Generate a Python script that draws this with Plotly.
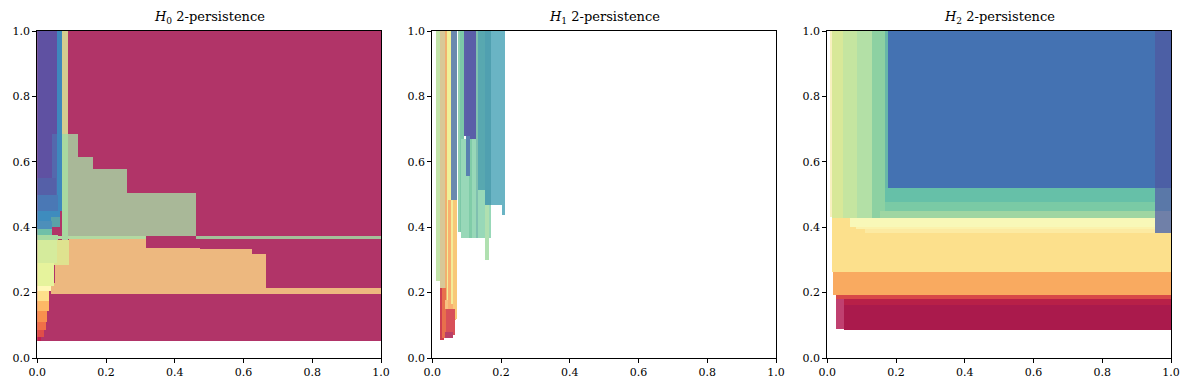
import plotly.graph_objects as go

# ---------------- data: rectangles (x0, x1, y0, y1) and colours ----------------
# Panel H0
h0_x0 = [0.000, 0.091, 0.118, 0.164, 0.261, 0.464, 0.040, 0.092, 0.318, 0.474, 0.625, 0.665, 0.051, 0.042,
         0.050, 0.072, 0.072, 0.057, 0.000, 0.045, 0.000, 0.000, 0.000, 0.040, 0.000, 0.000, 0.000,
         0.000, 0.000, 0.000, 0.000, 0.000, 0.000, 0.000, 0.000, 0.000]
h0_x1 = [1.000, 0.118, 0.164, 0.261, 0.464, 1.000, 0.318, 0.318, 0.474, 0.625, 0.665, 1.000, 0.092, 0.051,
         0.092, 0.091, 0.091, 0.072, 0.057, 0.057, 0.055, 0.062, 0.066, 0.066, 0.060, 0.045, 0.058,
         0.050, 0.040, 0.036, 0.034, 0.030, 0.026, 0.020, 0.012, 0.045]
h0_y0 = [0.052, 0.372, 0.372, 0.372, 0.372, 0.363, 0.363, 0.196, 0.196, 0.196, 0.196, 0.196, 0.196, 0.196,
         0.285, 0.684, 0.362, 0.450, 0.550, 0.500, 0.500, 0.450, 0.400, 0.400, 0.362, 0.376, 0.290,
         0.220, 0.205, 0.175, 0.145, 0.110, 0.085, 0.065, 0.052, 0.395]
h0_y1 = [1.000, 0.684, 0.614, 0.577, 0.504, 0.372, 0.374, 0.365, 0.335, 0.332, 0.318, 0.214, 0.285, 0.228,
         0.362, 1.000, 0.684, 1.000, 1.000, 0.684, 0.550, 0.500, 0.450, 0.432, 0.376, 0.400, 0.362,
         0.290, 0.220, 0.205, 0.175, 0.145, 0.110, 0.085, 0.065, 0.420]
h0_col = ["#B13468", "#A9B898", "#A9B898", "#A9B898", "#A9B898", "#A4C09A", "#B3D9A1", "#EDB87F", "#EDB87F",
          "#EDB87F", "#EDB87F", "#EDB87F", "#EDB87F", "#EDB87F",
          "#DFE28F", "#D4CC90", "#A8D8A0", "#3E88BD", "#5F51A2", "#5468AD", "#5560A8", "#4A78B5", "#3E8CBE",
          "#5AA2A8", "#A8DAA0", "#70C0A8", "#D5EB9C",
          "#E6F39C", "#FFF8B8", "#FEE08B", "#FDB866", "#F8904E", "#F07048", "#E04E48", "#C02050", "#4D8FBA"]

# Panel H1
h1_x0 = [0.011, 0.022, 0.037, 0.043, 0.054, 0.077, 0.082, 0.083, 0.108, 0.153, 0.092, 0.100, 0.098, 0.127,
         0.133, 0.154, 0.173, 0.205, 0.046, 0.060, 0.022, 0.028, 0.040, 0.039, 0.054, 0.037]
h1_x1 = [0.022, 0.037, 0.043, 0.054, 0.074, 0.082, 0.093, 0.173, 0.115, 0.165, 0.113, 0.127, 0.112, 0.133,
         0.154, 0.173, 0.211, 0.211, 0.071, 0.074, 0.036, 0.040, 0.066, 0.061, 0.060, 0.046]
h1_y0 = [0.234, 0.213, 0.176, 0.166, 0.482, 0.385, 0.385, 0.367, 0.367, 0.299, 0.678, 0.670, 0.557, 0.367,
         0.513, 0.467, 0.467, 0.436, 0.115, 0.118, 0.054, 0.062, 0.070, 0.062, 0.166, 0.150]
h1_y1 = [1.000, 1.000, 1.000, 1.000, 1.000, 1.000, 1.000, 0.670, 0.670, 0.467, 1.000, 1.000, 0.678, 1.000,
         1.000, 1.000, 1.000, 0.467, 0.482, 0.482, 0.213, 0.213, 0.150, 0.080, 0.482, 0.176]
h1_col = ["#C3E4A9", "#D8C898", "#F0B070", "#F0F098", "#6A88AE", "#90D0B0", "#7CC8A8", "#98D8B8", "#80CCA8",
          "#B0E0B0", "#5C60A8", "#5A5EA8", "#5880B0", "#80C0B0",
          "#58A8B0", "#50A0B0", "#6AB4C4", "#6AB4C4", "#F8B070", "#F8C878", "#D04050", "#E8704C", "#D85058",
          "#B84068", "#F4EC98", "#F8C080"]

# Panel H2
h2_x0 = [0.014, 0.016, 0.027, 0.049, 0.049, 0.027, 0.066, 0.084, 0.112, 0.010, 0.014, 0.046, 0.086, 0.130,
         0.155, 0.169, 0.169, 0.169, 0.177, 0.953, 0.953, 0.953]
h2_x1 = [1.000, 1.000, 1.000, 1.000, 1.000, 0.049, 0.953, 0.953, 0.953, 0.014, 0.046, 0.086, 0.130, 0.169,
         0.953, 0.953, 0.953, 0.177, 0.953, 1.000, 1.000, 1.000]
h2_y0 = [0.264, 0.193, 0.180, 0.161, 0.087, 0.090, 0.402, 0.395, 0.382, 0.430, 0.427, 0.427, 0.427, 0.427,
         0.427, 0.450, 0.476, 0.519, 0.519, 0.382, 0.450, 0.519]
h2_y1 = [0.427, 0.264, 0.194, 0.180, 0.161, 0.180, 0.427, 0.402, 0.395, 1.000, 1.000, 1.000, 1.000, 1.000,
         0.450, 0.476, 0.519, 1.000, 1.000, 0.450, 0.519, 1.000]
h2_col = ["#FCE08C", "#F9AA60", "#D84848", "#B82048", "#AA1A4C", "#C04070", "#F8F8B8", "#FBF2AC", "#FCEAA2",
          "#F8F0C0", "#D8E898", "#C5E5A0", "#B3E0A6", "#8DD1A2",
          "#9FD6A2", "#7ACAA5", "#66C0A8", "#68B8A8", "#4472B2", "#7080A8", "#5A78A8", "#4C5FA5"]

titles = ["<i>H</i><sub>0</sub> 2-persistence", "<i>H</i><sub>1</sub> 2-persistence", "<i>H</i><sub>2</sub> 2-persistence"]
tick_vals = [0.0, 0.2, 0.4, 0.6, 0.8, 1.0]
tick_text = ["0.0", "0.2", "0.4", "0.6", "0.8", "1.0"]

panels = [(h0_x0, h0_x1, h0_y0, h0_y1, h0_col),
          (h1_x0, h1_x1, h1_y0, h1_y1, h1_col),
          (h2_x0, h2_x1, h2_y0, h2_y1, h2_col)]

# ---------------- figure ----------------
# the page body has an 8px default margin, so the figure is sized to fit inside the window
W, H = 1174, 374
ml, mr, mt, mb = 29, 11, 23, 24
pw = W - ml - mr
starts = [0.3, 395.3, 790.3]
width_px = 343.7
domains = [[s / pw, min((s + width_px) / pw, 1.0)] for s in starts]

fig = go.Figure()
font_family = "DejaVu Serif"

for i, (x0, x1, y0, y1, col) in enumerate(panels):
    sfx = "" if i == 0 else str(i + 1)
    fig.add_trace(go.Bar(
        x=[(a + b) / 2 for a, b in zip(x0, x1)],
        width=[b - a for a, b in zip(x0, x1)],
        base=y0,
        y=[b - a for a, b in zip(y0, y1)],
        marker=dict(color=col, line=dict(width=0)),
        xaxis="x" + sfx, yaxis="y" + sfx,
        showlegend=False, hoverinfo="skip",
    ))
    axis_common = dict(range=[0, 1], showgrid=False, zeroline=False, showline=True, linecolor="black",
                       linewidth=1, mirror=True, ticks="outside", ticklen=4, tickwidth=1, tickcolor="black",
                       tickvals=tick_vals, ticktext=tick_text, automargin=False,
                       tickfont=dict(family=font_family, size=11, color="black"), fixedrange=True)
    fig.layout["xaxis" + sfx] = dict(domain=domains[i], anchor="y" + sfx, **axis_common)
    fig.layout["yaxis" + sfx] = dict(domain=[0, 1], anchor="x" + sfx, **axis_common)
    fig.add_annotation(text=titles[i], x=(domains[i][0] + domains[i][1]) / 2, y=1, xref="paper", yref="paper",
                       xanchor="center", yanchor="bottom", yshift=3, showarrow=False,
                       font=dict(family=font_family, size=13, color="black"))

fig.update_layout(width=W, height=H, margin=dict(l=ml, r=mr, t=mt, b=mb),
                  paper_bgcolor="white", plot_bgcolor="white", barmode="overlay", bargap=0)

fig.write_html("out.html")
